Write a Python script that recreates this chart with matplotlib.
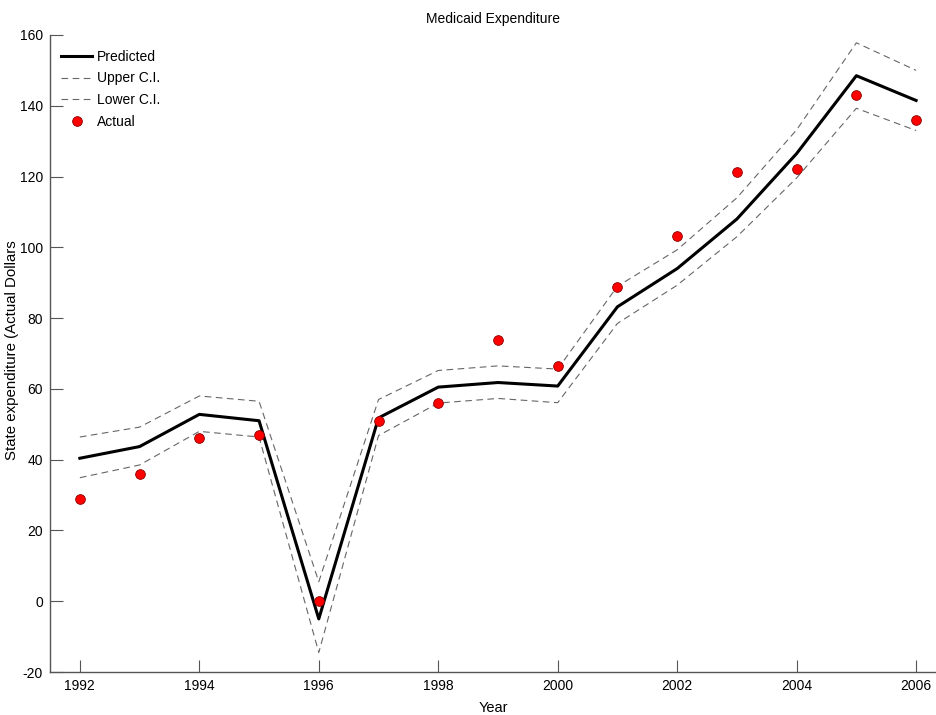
import matplotlib
matplotlib.use('Agg')
import matplotlib.pyplot as plt
from matplotlib import font_manager

# data
years = list(range(1992, 2007))
predicted = [40.4, 43.7, 52.8, 51.0, -5.0, 51.8, 60.5, 61.8, 60.8,
             83.2, 94.0, 108.0, 126.5, 148.5, 141.5]
upper_ci = [46.4, 49.2, 58.0, 56.5, 5.5, 57.0, 65.2, 66.5, 65.6,
            89.0, 99.3, 114.0, 133.2, 157.8, 150.0]
lower_ci = [34.9, 38.5, 48.0, 46.4, -14.5, 46.8, 56.0, 57.3, 56.1,
            78.5, 89.3, 103.0, 119.6, 139.3, 133.0]
actual = [29.0, 36.0, 46.0, 47.0, 0.0, 51.0, 56.0, 73.7, 66.5,
          88.7, 103.1, 121.2, 122.2, 143.0, 136.0]

xticks = list(range(1992, 2007, 2))
yticks = list(range(-20, 161, 20))

names = {f.name for f in font_manager.fontManager.ttflist}
fam = 'Liberation Sans Narrow' if 'Liberation Sans Narrow' in names else 'Liberation Sans'
plt.rcParams['font.family'] = [fam, 'DejaVu Sans']
plt.rcParams['font.size'] = 10
plt.rcParams['axes.unicode_minus'] = False

fig = plt.figure(figsize=(9.37, 7.15), dpi=100)
ax = fig.add_axes([50 / 937, 43 / 715, 887 / 937, 637 / 715])

axis_col = '#555555'
ax.plot(years, predicted, color='black', linewidth=2.2, label='Predicted')
ax.plot(years, upper_ci, color='#666666', linewidth=0.8, linestyle=(0, (6, 4)),
        label='Upper C.I.')
ax.plot(years, lower_ci, color='#666666', linewidth=0.8, linestyle=(0, (6, 4)),
        label='Lower C.I.')
ax.plot(years, actual, linestyle='none', marker='o', markersize=7,
        markerfacecolor='red', markeredgecolor='#880000', markeredgewidth=0.6,
        label='Actual')

ax.set_xlim(1991.5, 2006.35)
ax.set_ylim(-20, 160)
ax.set_xticks(xticks)
ax.set_yticks(yticks)

for side in ['top', 'right']:
    ax.spines[side].set_visible(False)
for side in ['left', 'bottom']:
    ax.spines[side].set_color(axis_col)
    ax.spines[side].set_linewidth(1.0)
ax.tick_params(direction='in', length=9, width=0.8, color=axis_col,
               labelsize=10, labelcolor='black', pad=5)

ax.set_title('Medicaid Expenditure', fontsize=10, pad=9)
ax.set_xlabel('Year', fontsize=10.5, labelpad=6)
ax.set_ylabel('State expenditure (Actual Dollars', fontsize=10.8)
ax.yaxis.set_label_coords(-31 / 887, 0.505)

ax.legend(loc='upper left', bbox_to_anchor=(0.002, 0.992), frameon=False,
          fontsize=10, handlelength=2.2, handletextpad=0.35,
          labelspacing=0.55, borderaxespad=0.3)

fig.savefig('out.png', dpi=100)
